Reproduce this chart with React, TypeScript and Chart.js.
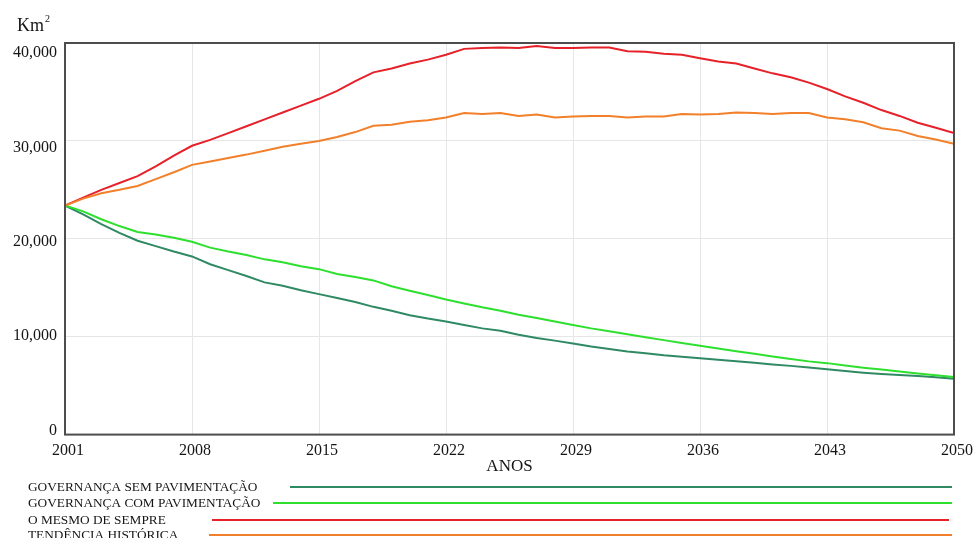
import React, { useEffect, useRef } from "react";
import { Chart, registerables } from "chart.js";

Chart.register(...registerables);

const years: number[] = [];
for (let y = 2001; y <= 2050; y++) years.push(y);

const xTicks = [2001, 2008, 2015, 2022, 2029, 2036, 2043, 2050];
const yTicks = [0, 10000, 20000, 30000, 40000];

const semPavimentacao = [
  23400, 22500, 21500, 20600, 19800, 19250, 18700, 18200, 17400, 16800,
  16200, 15550, 15200, 14750, 14350, 13950, 13550, 13050, 12650, 12200,
  11850, 11550, 11200, 10850, 10600, 10200, 9870, 9600, 9300, 9000,
  8750, 8500, 8300, 8100, 7950, 7800, 7650, 7480, 7330, 7170,
  7020, 6850, 6680, 6500, 6330, 6200, 6100, 5980, 5850, 5700,
];

const comPavimentacao = [
  23400, 22800, 22000, 21300, 20700, 20450, 20100, 19700, 19100, 18700,
  18350, 17900, 17600, 17200, 16900, 16400, 16100, 15750, 15150, 14700,
  14250, 13800, 13400, 13000, 12650, 12250, 11900, 11550, 11200, 10850,
  10550, 10250, 9950, 9650, 9350, 9080, 8800, 8520, 8250, 7980,
  7720, 7480, 7300, 7050, 6830, 6650, 6450, 6250, 6070, 5880,
];

const mesmoDeSempre = [
  23400, 24200, 25000, 25700, 26400, 27400, 28500, 29500, 30100, 30800,
  31500, 32200, 32900, 33600, 34300, 35100, 36100, 37000, 37400, 37900,
  38300, 38800, 39400, 39500, 39550, 39500, 39700, 39500, 39500, 39550,
  39550, 39150, 39100, 38900, 38800, 38450, 38100, 37900, 37400, 36900,
  36500, 35950, 35300, 34550, 33900, 33150, 32550, 31850, 31350, 30800,
];

const tendenciaHistorica = [
  23400, 24100, 24650, 25000, 25400, 26100, 26800, 27550, 27900, 28250,
  28600, 29000, 29400, 29700, 30000, 30400, 30900, 31550, 31650, 31950,
  32100, 32400, 32850, 32750, 32850, 32550, 32700, 32400, 32500, 32550,
  32550, 32400, 32500, 32500, 32750, 32700, 32750, 32900, 32850, 32750,
  32850, 32850, 32400, 32200, 31900, 31300, 31050, 30500, 30150, 29700,
];

const seriesNames = [
  "GOVERNANÇA SEM PAVIMENTAÇÃO",
  "GOVERNANÇA COM PAVIMENTAÇÃO",
  "O MESMO DE SEMPRE",
  "TENDÊNCIA HISTÓRICA",
];
const seriesValues = [semPavimentacao, comPavimentacao, mesmoDeSempre, tendenciaHistorica];
const seriesColors = ["#2f8a63", "#2ee02e", "#e62129", "#f2802a"];

const FONT = "'Liberation Serif', 'DejaVu Serif', serif";
const TEXT = "#151515";

// legend line start x positions (style), rows y
const legendLineStart = [290, 273, 212, 209];
const legendLineEnd = [952, 952, 949, 952];
const legendRowY = [487, 503, 520, 535];

const framePlugin = {
  id: "frameAndLegend",
  afterDatasetsDraw(chart: any) {
    const { ctx, chartArea } = chart;
    ctx.save();
    ctx.strokeStyle = "#4d4d4d";
    ctx.lineWidth = 2;
    ctx.strokeRect(chartArea.left, chartArea.top, chartArea.right - chartArea.left, chartArea.bottom - chartArea.top);
    ctx.restore();
  },
  afterDraw(chart: any) {
    const { ctx } = chart;
    ctx.save();
    // unit label
    ctx.fillStyle = TEXT;
    ctx.textBaseline = "alphabetic";
    ctx.textAlign = "left";
    ctx.font = `18px ${FONT}`;
    ctx.fillText("Km", 17, 31);
    const w = ctx.measureText("Km").width;
    ctx.font = `10px ${FONT}`;
    ctx.fillText("2", 17 + w + 1, 22);
    // legend
    ctx.font = `13.3px ${FONT}`;
    ctx.textBaseline = "middle";
    seriesNames.forEach((name, i) => {
      ctx.fillStyle = TEXT;
      ctx.fillText(name, 28, legendRowY[i] + 1);
      ctx.strokeStyle = seriesColors[i];
      ctx.lineWidth = 2;
      ctx.beginPath();
      ctx.moveTo(legendLineStart[i], legendRowY[i]);
      ctx.lineTo(legendLineEnd[i], legendRowY[i]);
      ctx.stroke();
    });
    ctx.restore();
  },
};

export default function App() {
  const ref = useRef<HTMLCanvasElement | null>(null);
  useEffect(() => {
    if (!ref.current) return;
    const datasets = seriesNames.map((name, i) => ({
      label: name,
      data: years.map((yr, j) => ({ x: yr, y: seriesValues[i][j] })),
      borderColor: seriesColors[i],
      backgroundColor: seriesColors[i],
      borderWidth: 2,
      pointRadius: 0,
      tension: 0,
      fill: false,
      xAxisID: "x",
      yAxisID: "y",
    }));
    const chart = new Chart(ref.current, {
      type: "line",
      data: { datasets: datasets.slice().reverse() },
      options: {
        animation: false,
        responsive: true,
        maintainAspectRatio: false,
        layout: { padding: { top: 43, left: 5, right: 23, bottom: 61 } },
        plugins: { legend: { display: false }, tooltip: { enabled: false } },
        scales: {
          x: {
            type: "linear",
            min: 2001,
            max: 2050,
            afterBuildTicks: (axis: any) => {
              axis.ticks = xTicks.map((v) => ({ value: v }));
            },
            grid: { color: "#e6e6e6", lineWidth: 1, drawTicks: false },
            border: { display: false },
            ticks: {
              font: { family: FONT, size: 16, lineHeight: 1 },
              color: TEXT,
              padding: 8,
              labelOffset: 3,
              maxRotation: 0,
              autoSkip: false,
              callback: (v: any) => String(v),
            },
            title: {
              display: true,
              text: "ANOS",
              font: { family: FONT, size: 17, lineHeight: 1.2 },
              color: TEXT,
              padding: { top: -10, bottom: 0 },
            },
          },
          y: {
            type: "linear",
            position: "left",
            min: 0,
            max: 40000,
            afterBuildTicks: (axis: any) => {
              axis.ticks = yTicks.map((v) => ({ value: v }));
            },
            grid: { color: "#e6e6e6", lineWidth: 1, drawTicks: false },
            border: { display: false },
            ticks: { display: false },
          },
          yLabels: {
            type: "linear",
            position: "left",
            min: -423,
            max: 41058,
            afterBuildTicks: (axis: any) => {
              axis.ticks = yTicks.map((v) => ({ value: v }));
            },
            grid: { display: false, drawTicks: false },
            border: { display: false },
            ticks: {
              font: { family: FONT, size: 16 },
              color: TEXT,
              padding: 8,
              callback: (v: any) => Number(v).toLocaleString("en-US"),
            },
          },
        },
      },
      plugins: [framePlugin],
    } as any);
    return () => chart.destroy();
  }, []);
  return (
    <div style={{ position: "absolute", left: 0, top: 0, width: 978, height: 538, background: "#fff" }}>
      <canvas ref={ref} />
    </div>
  );
}
